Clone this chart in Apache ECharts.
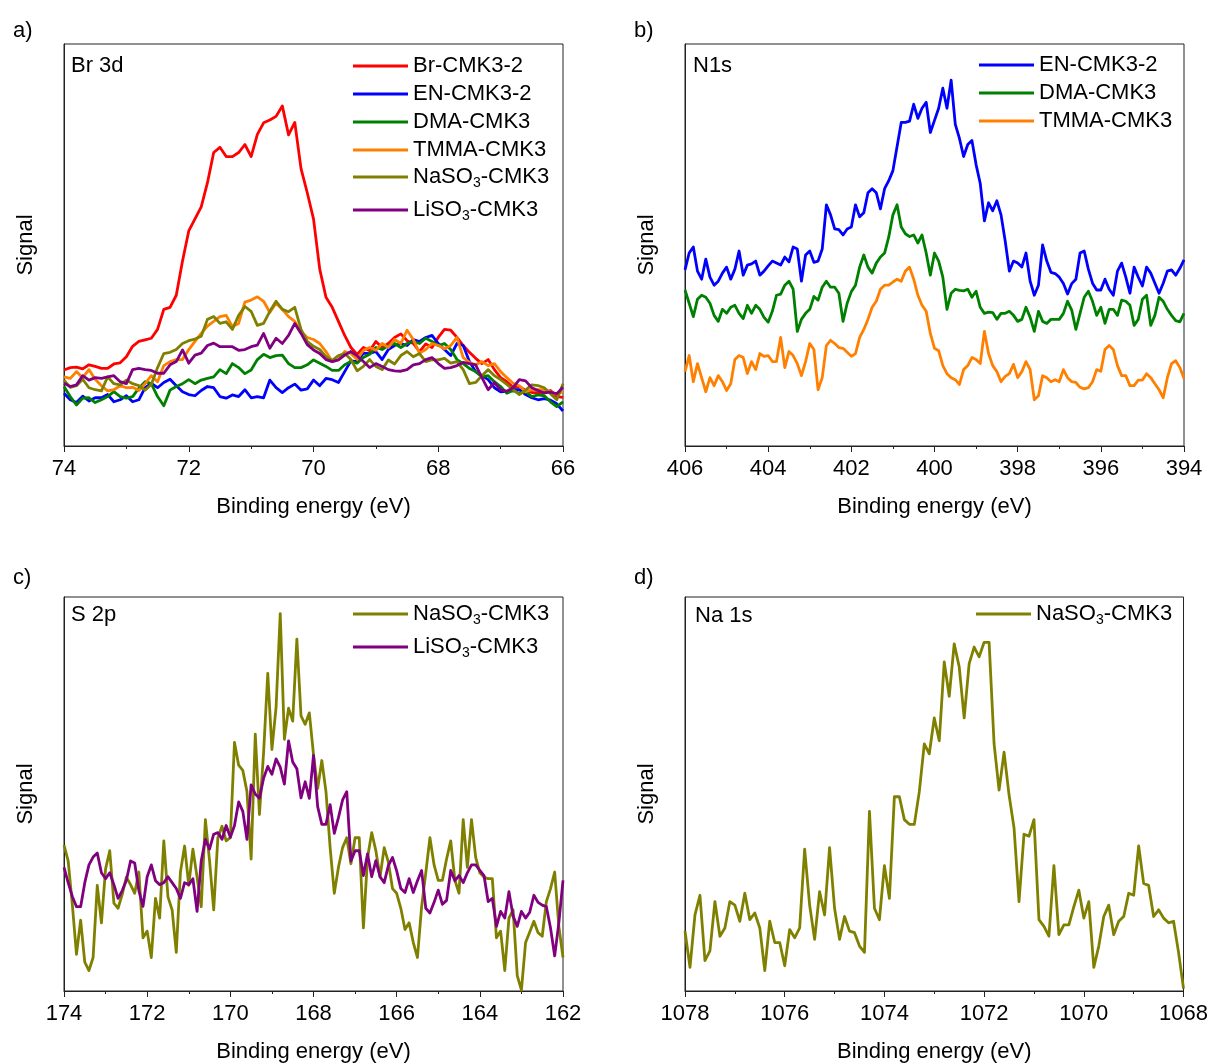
<!DOCTYPE html>
<html>
<head>
<meta charset="utf-8">
<title>XPS spectra</title>
<script src="https://cdn.jsdelivr.net/npm/echarts@6/dist/echarts.min.js"></script>
<style>
  html, body { margin: 0; padding: 0; background: #ffffff; }
  #chart { width: 1211px; height: 1064px; }
</style>
</head>
<body>
<div id="chart"></div>
<script>
// ---------- a) Br 3d ----------
const brEnergy = [
  74,73.9,73.8,73.7,73.6,73.5,73.4,73.3,73.2,73.1,
  73,72.9,72.8,72.7,72.6,72.5,72.4,72.3,72.2,72.1,
  72,71.9,71.8,71.7,71.6,71.5,71.4,71.3,71.2,71.1,
  71,70.9,70.8,70.7,70.6,70.5,70.4,70.3,70.2,70.1,
  70,69.9,69.8,69.7,69.6,69.5,69.4,69.3,69.2,69.1,
  69,68.9,68.8,68.7,68.6,68.5,68.4,68.3,68.2,68.1,
  68,67.9,67.8,67.7,67.6,67.5,67.4,67.3,67.2,67.1,
  67,66.9,66.8,66.7,66.6,66.5,66.4,66.3,66.2,66.1,
  66
];
const brBrCMK3 = [
  18.9,19.5,19.6,19.2,20.2,19.8,19.3,19.3,20.4,20.7,
  22.2,24.8,26.0,26.4,26.8,29.0,34.0,34.5,37.5,46.0,
  53.5,56.5,59.5,65.5,73.0,74.3,72.0,72.0,73.0,75.0,
  72.0,77.5,80.4,81.1,82.0,84.6,77.4,80.5,69.0,63.0,
  56.5,44.0,37.0,34.5,31.0,27.5,24.5,22.8,24.5,23.7,
  26.0,24.5,25.5,27.0,27.9,26.2,25.5,23.5,25.4,24.5,
  27.0,29.0,28.8,27.0,25.0,23.3,21.8,20.5,21.5,19.0,
  17.0,16.0,14.6,14.8,13.8,13.3,13.3,13.3,13.8,12.3,
  12.1
];
const brENCMK3 = [
  13.1,11.5,10.8,12.4,11.2,12.0,12.0,12.8,11.0,11.5,
  12.5,11.0,11.5,14.5,15.6,14.5,15.8,16.6,15.0,13.5,
  12.8,12.5,13.8,14.8,14.5,12.3,11.9,12.7,12.3,14.0,
  12.0,12.3,12.0,16.4,14.5,13.3,14.5,15.4,13.9,14.2,
  16.4,15.0,16.8,16.5,15.8,18.5,21.2,21.0,23.1,23.0,
  23.5,21.5,24.0,25.0,25.5,25.0,26.5,26.0,27.0,27.5,
  25.5,24.0,22.5,25.5,25.0,21.0,18.5,17.5,16.5,14.5,
  13.5,13.6,14.0,14.0,12.8,12.0,11.5,11.8,11.4,10.5,
  8.7
];
const brDMACMK3 = [
  14.8,12.3,10.2,11.9,12.0,10.8,11.5,12.3,13.5,12.3,
  11.9,12.3,14.4,16.0,15.5,12.3,10.0,13.9,14.8,15.5,
  16.5,15.5,16.4,16.8,17.2,19.0,18.0,20.5,19.5,18.0,
  18.9,21.5,22.8,22.0,22.5,22.6,20.5,19.5,19.5,20.2,
  21.4,20.6,19.8,18.8,18.8,20.2,21.0,20.6,22.0,22.8,
  24.5,24.0,25.0,25.5,24.5,25.5,26.0,25.5,26.8,26.0,
  25.0,25.5,24.0,21.5,20.5,19.3,18.5,17.2,17.5,16.0,
  14.8,13.1,13.8,13.1,13.5,12.3,12.7,12.5,11.0,9.8,
  11.0
];
const brTMMACMK3 = [
  17.2,16.8,18.5,17.0,19.0,16.6,15.0,13.7,14.0,15.0,
  14.5,14.6,13.8,15.5,17.5,16.0,20.0,21.0,21.5,21.5,
  24.0,26.0,28.0,29.8,31.0,32.2,32.5,29.7,30.5,35.8,
  36.3,37.1,36.0,33.2,35.5,34.0,32.2,31.0,28.5,27.0,
  26.5,25.5,23.5,21.0,21.5,23.5,23.0,21.5,23.8,24.5,
  23.8,25.5,24.5,26.5,25.5,28.8,26.5,23.1,24.0,25.5,
  25.0,24.2,25.0,27.0,22.0,20.8,20.2,21.0,20.0,20.5,
  18.5,17.0,15.6,15.0,13.5,14.0,14.0,14.0,13.5,12.9,
  13.5
];
const brNaSO3CMK3 = [
  16.4,14.6,15.0,16.6,14.5,14.0,13.7,17.2,15.5,15.2,
  16.4,15.5,15.0,13.9,15.3,19.5,23.0,23.3,24.0,25.5,
  26.2,26.6,27.3,31.5,32.2,30.5,30.9,29.0,32.5,34.7,
  33.5,30.0,30.5,33.5,36.0,34.0,33.4,34.5,29.0,26.0,
  24.8,24.0,22.2,21.3,22.5,23.0,21.5,18.7,19.8,21.5,
  19.8,19.0,21.4,20.4,22.5,23.5,22.2,23.0,21.0,21.5,
  21.4,21.8,20.6,21.0,19.0,15.5,15.8,17.5,19.0,17.5,
  16.5,15.3,14.0,12.8,13.9,15.2,15.0,14.5,13.0,11.5,
  15.5
];
const brLiSO3CMK3 = [
  15.6,14.8,15.2,17.5,16.4,17.0,16.8,17.2,17.5,16.0,
  15.5,19.0,19.3,19.0,18.8,18.1,18.1,20.2,21.0,23.9,
  20.6,22.6,23.1,25.0,25.6,24.7,24.7,24.7,23.8,24.0,
  24.7,25.1,28.0,24.3,26.8,25.5,27.5,30.5,28.0,25.2,
  23.9,23.0,21.5,21.0,21.4,22.6,23.5,22.4,21.0,19.5,
  20.5,19.8,19.0,18.7,18.6,19.0,20.2,20.5,21.5,22.0,
  20.5,19.3,19.5,20.0,20.8,20.5,20.2,17.0,14.0,15.8,
  14.0,13.6,14.5,16.5,16.2,14.5,13.8,13.2,13.4,13.0,
  14.6
];

// ---------- b) N1s ----------
const nEnergy = [
  406,405.9,405.8,405.7,405.6,405.5,405.4,405.3,405.2,405.1,
  405,404.9,404.8,404.7,404.6,404.5,404.4,404.3,404.2,404.1,
  404,403.9,403.8,403.7,403.6,403.5,403.4,403.3,403.2,403.1,
  403,402.9,402.8,402.7,402.6,402.5,402.4,402.3,402.2,402.1,
  402,401.9,401.8,401.7,401.6,401.5,401.4,401.3,401.2,401.1,
  401,400.9,400.8,400.7,400.6,400.5,400.4,400.3,400.2,400.1,
  400,399.9,399.8,399.7,399.6,399.5,399.4,399.3,399.2,399.1,
  399,398.9,398.8,398.7,398.6,398.5,398.4,398.3,398.2,398.1,
  398,397.9,397.8,397.7,397.6,397.5,397.4,397.3,397.2,397.1,
  397,396.9,396.8,396.7,396.6,396.5,396.4,396.3,396.2,396.1,
  396,395.9,395.8,395.7,395.6,395.5,395.4,395.3,395.2,395.1,
  395,394.9,394.8,394.7,394.6,394.5,394.4,394.3,394.2,394.1,
  394
];
const nENCMK3 = [
  43.8,48.0,49.5,43.5,41.5,46.5,42.0,40.0,41.0,43.0,
  44.5,41.5,44.0,48.5,42.5,45.0,45.3,46.0,42.5,43.5,
  44.8,46.0,45.5,45.0,47.0,45.8,49.5,49.0,41.0,47.5,
  48.5,45.7,46.0,49.0,60.0,57.5,54.0,53.8,52.5,54.0,
  54.5,60.0,57.0,58.0,63.0,64.0,63.0,59.0,64.0,66.0,
  68.5,74.5,80.5,80.5,80.8,85.0,81.5,84.0,85.5,78.0,
  81.0,84.0,89.0,84.0,91.0,80.0,76.5,72.0,75.0,76.0,
  70.0,65.3,56.0,60.5,58.5,61.0,57.5,51.0,43.5,46.0,
  45.5,44.5,48.0,41.0,37.5,40.0,50.0,46.0,43.2,42.9,
  42.0,40.4,37.8,40.4,41.5,48.0,48.5,44.0,40.5,38.8,
  38.8,41.5,39.0,37.5,43.5,45.5,42.0,38.0,44.5,42.0,
  39.8,44.5,43.0,40.5,38.0,40.5,43.5,43.8,42.5,44.2,
  46.3
];
const nDMACMK3 = [
  38.8,35.5,32.2,36.5,37.5,37.0,35.5,32.5,31.0,34.0,
  33.0,34.5,35.0,33.0,31.7,35.0,33.0,35.0,34.0,32.0,
  30.8,33.5,37.5,37.8,40.0,41.0,39.0,28.5,31.5,33.0,
  34.0,37.2,36.3,39.5,41.0,39.5,39.5,38.0,31.0,35.5,
  38.4,40.0,44.5,47.5,44.5,43.0,45.5,47.0,48.0,52.0,
  57.5,60.0,54.5,52.8,52.1,52.5,50.5,52.5,48.0,42.5,
  48.0,46.0,42.0,34.0,38.0,39.0,38.7,38.6,39.0,37.0,
  38.5,34.5,33.0,33.3,33.2,31.5,33.0,33.0,33.5,32.5,
  31.0,31.5,34.5,32.0,28.5,33.5,31.0,30.5,31.5,31.5,
  31.5,33.0,36.0,33.8,29.0,33.0,37.0,38.5,36.0,32.5,
  34.5,30.5,34.0,34.0,32.5,36.3,36.0,35.0,30.0,31.5,
  36.5,37.5,30.0,32.5,37.0,36.0,34.0,32.5,31.2,30.9,
  33.0
];
const nTMMACMK3 = [
  18.5,22.5,16.0,20.5,17.0,13.5,17.0,15.0,17.5,16.0,
  13.8,15.5,21.5,22.5,22.0,18.0,21.0,19.0,23.0,22.3,
  22.5,21.0,21.0,27.0,19.5,23.5,22.5,20.5,17.5,21.0,
  25.5,24.0,14.0,17.0,25.0,26.3,25.5,24.5,24.3,23.3,
  22.3,23.0,27.0,29.0,31.5,34.5,36.0,39.0,40.0,40.0,
  40.8,41.5,41.0,43.5,44.5,41.5,37.5,35.0,33.5,28.0,
  24.3,23.7,20.0,18.0,17.0,16.5,15.3,19.0,20.0,22.0,
  21.5,20.5,28.5,23.0,20.0,18.5,16.0,17.3,18.0,20.3,
  17.0,18.5,21.0,19.0,11.5,12.5,17.5,17.0,16.0,16.5,
  16.0,19.0,17.0,16.0,15.8,14.6,14.2,14.5,16.0,19.0,
  18.6,24.0,25.0,24.0,20.0,17.5,17.5,15.0,15.0,16.4,
  16.4,18.0,17.0,15.5,14.0,12.0,17.0,20.5,21.2,19.5,
  16.8
];

// ---------- c) S 2p ----------
const sEnergy = [
  174,173.9,173.8,173.7,173.6,173.5,173.4,173.3,173.2,173.1,
  173,172.9,172.8,172.7,172.6,172.5,172.4,172.3,172.2,172.1,
  172,171.9,171.8,171.7,171.6,171.5,171.4,171.3,171.2,171.1,
  171,170.9,170.8,170.7,170.6,170.5,170.4,170.3,170.2,170.1,
  170,169.9,169.8,169.7,169.6,169.5,169.4,169.3,169.2,169.1,
  169,168.9,168.8,168.7,168.6,168.5,168.4,168.3,168.2,168.1,
  168,167.9,167.8,167.7,167.6,167.5,167.4,167.3,167.2,167.1,
  167,166.9,166.8,166.7,166.6,166.5,166.4,166.3,166.2,166.1,
  166,165.9,165.8,165.7,165.6,165.5,165.4,165.3,165.2,165.1,
  165,164.9,164.8,164.7,164.6,164.5,164.4,164.3,164.2,164.1,
  164,163.9,163.8,163.7,163.6,163.5,163.4,163.3,163.2,163.1,
  163,162.9,162.8,162.7,162.6,162.5,162.4,162.3,162.2,162.1,
  162
];
const sNaSO3CMK3 = [
  37.0,33.0,22.0,9.3,18.0,7.3,5.2,8.5,26.8,17.3,
  31.0,35.6,22.3,21.0,24.5,28.9,27.0,24.8,30.2,13.5,
  15.2,8.5,23.5,18.5,38.1,23.9,20.6,9.8,30.2,36.8,
  26.8,36.0,28.9,21.4,43.5,33.1,20.6,38.9,41.8,38.1,
  38.9,63.1,57.3,56.0,50.6,33.5,65.2,44.8,60.5,80.6,
  61.3,72.0,95.8,63.9,71.8,68.5,89.3,69.8,67.7,70.6,
  60.0,51.4,58.5,50.6,36.4,24.8,31.4,36.4,38.9,32.3,
  38.9,38.9,16.0,33.9,40.2,35.6,28.9,36.4,32.7,26.0,
  24.8,21.0,15.6,17.3,12.3,8.5,21.4,30.0,38.9,32.0,
  28.1,28.1,33.5,38.1,28.1,24.8,43.5,31.4,43.5,33.9,
  30.0,28.9,28.5,28.5,13.5,15.2,5.2,18.5,20.6,3.9,
  0.2,12.3,15.0,17.7,14.8,13.9,22.7,26.0,30.2,16.4,
  8.5
];
const sLiSO3CMK3 = [
  31.4,27.5,24.0,21.4,21.4,27.5,32.0,34.0,35.0,30.0,
  28.5,30.0,27.0,23.5,25.5,28.1,33.0,32.5,25.5,21.5,
  29.0,32.0,28.0,27.0,27.5,29.0,27.5,26.0,23.5,27.5,
  27.0,28.5,20.2,33.0,38.5,36.0,39.8,40.2,38.5,42.0,
  39.0,42.0,48.0,45.6,38.5,52.3,50.0,48.9,54.0,57.0,
  55.0,58.9,56.8,52.5,63.5,58.1,56.4,49.0,53.1,48.9,
  59.8,46.8,42.3,42.3,47.3,40.0,44.0,48.5,50.6,33.0,
  35.6,35.6,29.3,34.8,29.0,33.1,29.0,27.5,31.8,33.9,
  30.5,26.0,25.0,28.5,25.0,28.0,30.6,21.0,19.8,22.5,
  25.6,22.0,23.0,30.6,28.0,29.3,27.5,30.0,32.0,32.0,
  30.6,29.3,22.7,23.5,16.4,20.2,18.5,25.2,19.0,16.4,
  20.2,18.5,20.0,24.3,22.5,21.8,21.4,16.0,8.9,17.3,
  28.1
];

// ---------- d) Na 1s ----------
const naEnergy = [
  1078,1077.9,1077.8,1077.7,1077.6,1077.5,1077.4,1077.3,1077.2,1077.1,
  1077,1076.9,1076.8,1076.7,1076.6,1076.5,1076.4,1076.3,1076.2,1076.1,
  1076,1075.9,1075.8,1075.7,1075.6,1075.5,1075.4,1075.3,1075.2,1075.1,
  1075,1074.9,1074.8,1074.7,1074.6,1074.5,1074.4,1074.3,1074.2,1074.1,
  1074,1073.9,1073.8,1073.7,1073.6,1073.5,1073.4,1073.3,1073.2,1073.1,
  1073,1072.9,1072.8,1072.7,1072.6,1072.5,1072.4,1072.3,1072.2,1072.1,
  1072,1071.9,1071.8,1071.7,1071.6,1071.5,1071.4,1071.3,1071.2,1071.1,
  1071,1070.9,1070.8,1070.7,1070.6,1070.5,1070.4,1070.3,1070.2,1070.1,
  1070,1069.9,1069.8,1069.7,1069.6,1069.5,1069.4,1069.3,1069.2,1069.1,
  1069,1068.9,1068.8,1068.7,1068.6,1068.5,1068.4,1068.3,1068.2,1068.1,
  1068
];
const naNaSO3CMK3 = [
  15.2,6.0,19.3,24.3,7.7,10.2,22.7,13.9,16.0,22.7,
  21.8,17.7,24.8,18.1,19.8,16.0,5.2,17.7,12.3,12.3,
  6.4,15.6,13.5,16.0,36.0,21.8,13.1,25.2,19.3,36.4,
  21.0,13.1,18.9,15.2,14.8,11.4,9.8,45.6,21.0,18.1,
  31.8,23.5,49.3,49.3,43.5,42.3,42.3,50.6,62.7,60.2,
  69.3,63.5,83.5,74.8,88.1,82.3,69.3,83.1,87.3,84.8,
  88.5,88.5,62.7,51.0,60.6,49.8,41.4,22.7,39.8,39.3,
  43.5,18.1,16.4,13.9,31.8,14.3,16.8,16.8,21.4,25.6,
  18.5,22.7,6.0,11.4,18.9,21.8,14.3,17.7,18.9,24.8,
  24.3,36.8,27.3,26.8,18.9,20.6,18.5,17.3,17.7,9.8,
  0.6
];

// ---------- styling ----------
const FONT = '"Liberation Sans", Arial, Helvetica, sans-serif';
const FS = 22;
const COLORS = {
  'Br-CMK3-2': '#ff0000',
  'EN-CMK3-2': '#0000ff',
  'DMA-CMK3': '#008000',
  'TMMA-CMK3': '#ff8000',
  'NaSO3-CMK3': '#808000',
  'LiSO3-CMK3': '#800080'
};

const panels = [
  {
    letter: 'a)', letterPos: [13, 20], title: 'Br 3d', titlePos: [71, 55],
    grid: { left: 64, top: 44, width: 499, height: 402 },
    min: 66, max: 74, legendLeft: 353,
    lines: [
      { name: 'Br-CMK3-2', x: brEnergy, y: brBrCMK3, legendY: 66 },
      { name: 'EN-CMK3-2', x: brEnergy, y: brENCMK3, legendY: 94 },
      { name: 'DMA-CMK3', x: brEnergy, y: brDMACMK3, legendY: 122 },
      { name: 'TMMA-CMK3', x: brEnergy, y: brTMMACMK3, legendY: 150 },
      { name: 'NaSO3-CMK3', x: brEnergy, y: brNaSO3CMK3, legendY: 179 },
      { name: 'LiSO3-CMK3', x: brEnergy, y: brLiSO3CMK3, legendY: 212 }
    ]
  },
  {
    letter: 'b)', letterPos: [634, 20], title: 'N1s', titlePos: [693, 55],
    grid: { left: 685, top: 44, width: 499, height: 402 },
    min: 394, max: 406, legendLeft: 979,
    lines: [
      { name: 'EN-CMK3-2', x: nEnergy, y: nENCMK3, legendY: 65 },
      { name: 'DMA-CMK3', x: nEnergy, y: nDMACMK3, legendY: 93 },
      { name: 'TMMA-CMK3', x: nEnergy, y: nTMMACMK3, legendY: 121 }
    ]
  },
  {
    letter: 'c)', letterPos: [13, 567], title: 'S 2p', titlePos: [71, 604],
    grid: { left: 64, top: 597, width: 499, height: 396 },
    min: 162, max: 174, legendLeft: 353,
    lines: [
      { name: 'NaSO3-CMK3', x: sEnergy, y: sNaSO3CMK3, legendY: 616 },
      { name: 'LiSO3-CMK3', x: sEnergy, y: sLiSO3CMK3, legendY: 649 }
    ]
  },
  {
    letter: 'd)', letterPos: [634, 567], title: 'Na 1s', titlePos: [695, 605],
    grid: { left: 685, top: 597, width: 499, height: 396 },
    min: 1068, max: 1078, legendLeft: 976,
    lines: [
      { name: 'NaSO3-CMK3', x: naEnergy, y: naNaSO3CMK3, legendY: 616 }
    ]
  }
];

const textBase = { fontFamily: FONT, fontSize: FS, color: '#000' };

const option = {
  animation: false,
  backgroundColor: '#ffffff',
  title: [],
  legend: [],
  grid: [],
  xAxis: [],
  yAxis: [],
  series: []
};

panels.forEach(function (p, k) {
  option.grid.push(Object.assign({
    show: true, borderColor: '#222', borderWidth: 1, backgroundColor: 'transparent',
    containLabel: false
  }, p.grid));

  option.xAxis.push({
    gridIndex: k, type: 'value', inverse: true,
    min: p.min, max: p.max, interval: 2,
    name: 'Binding energy (eV)', nameLocation: 'middle', nameGap: 50,
    nameTextStyle: Object.assign({}, textBase),
    axisLine: { show: true, onZero: false, lineStyle: { color: '#222', width: 1 } },
    axisTick: { show: true, inside: false, length: 6, lineStyle: { color: '#222' } },
    minorTick: { show: true, splitNumber: 2, length: 3, lineStyle: { color: '#222' } },
    axisLabel: Object.assign({
      margin: 12, showMinLabel: true, showMaxLabel: true,
      formatter: function (v) { return String(v); }
    }, textBase),
    splitLine: { show: false }
  });

  option.yAxis.push({
    gridIndex: k, type: 'value', min: 0, max: 100,
    name: 'Signal', nameLocation: 'middle', nameGap: 27,
    nameTextStyle: Object.assign({}, textBase),
    axisLine: { show: true, onZero: false, lineStyle: { color: '#222', width: 1 } },
    axisTick: { show: false },
    axisLabel: { show: false },
    splitLine: { show: false }
  });

  option.title.push({
    text: p.letter, left: p.letterPos[0], top: p.letterPos[1], padding: 0,
    textStyle: Object.assign({ fontWeight: 'normal' }, textBase)
  });
  option.title.push({
    text: p.title, left: p.titlePos[0], top: p.titlePos[1], padding: 0,
    textStyle: Object.assign({ fontWeight: 'normal' }, textBase)
  });

  p.lines.forEach(function (s) {
    option.series.push({
      name: s.name,
      type: 'line',
      xAxisIndex: k, yAxisIndex: k,
      symbol: 'none', showSymbol: false,
      lineStyle: { color: COLORS[s.name], width: 2.8, join: 'round' },
      itemStyle: { color: COLORS[s.name] },
      data: s.x.map(function (e, i) { return [e, s.y[i]]; })
    });

    const hasSub = s.name.indexOf('SO3') >= 0;
    option.legend.push({
      data: [{ name: s.name, icon: 'rect' }],
      left: p.legendLeft,
      top: s.legendY - (hasSub ? 13 : 11),
      padding: 0,
      selectedMode: false,
      itemWidth: 55, itemHeight: 3, itemGap: 0,
      itemStyle: { color: COLORS[s.name] },
      formatter: function (name) { return name.replace('SO3', 'SO{sub|3}'); },
      textStyle: Object.assign({
        padding: [0, 0, 0, 0],
        rich: { sub: { fontFamily: FONT, fontSize: 14, color: '#000', padding: [13, 0, 0, 0] } }
      }, textBase)
    });
  });
});

const chart = echarts.init(document.getElementById('chart'), null, { renderer: 'canvas' });
chart.setOption(option);
</script>
</body>
</html>
